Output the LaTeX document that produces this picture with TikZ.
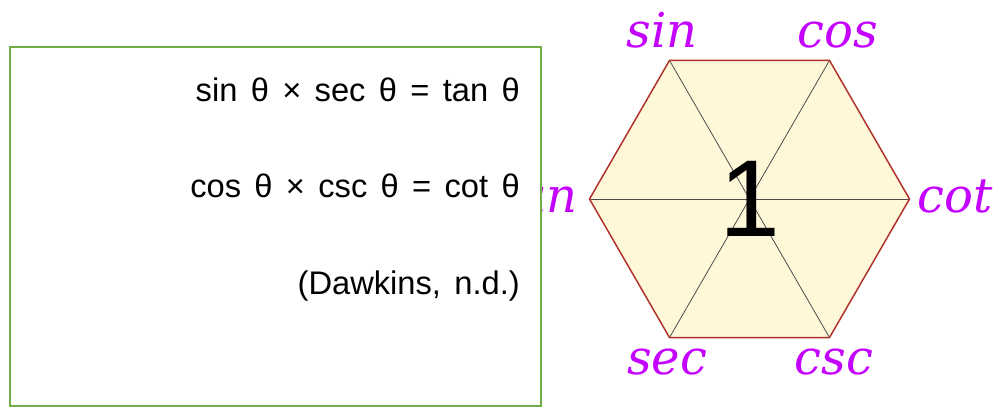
\documentclass[tikz,border=0pt]{standalone}
\usepackage{fontspec}
\setmainfont{Liberation Sans}
\newfontfamily\labelfont{DejaVu Serif}
\usepackage{xcolor}
\usepackage{tikz}
\definecolor{hexfill}{RGB}{255,248,216}
\definecolor{hexedge}{RGB}{176,48,40}
\definecolor{fnviolet}{RGB}{196,0,255}
\definecolor{boxgreen}{RGB}{112,173,71}
\newcommand\eqfont{\fontsize{24.5}{24.5}\selectfont\spaceskip=10pt plus 0pt\relax}

\begin{document}
\begin{tikzpicture}[x=0.75pt,y=0.75pt,
    fn/.style={font=\labelfont\itshape\fontsize{36}{36}\selectfont,text=fnviolet,inner sep=0pt,anchor=base},
    eq/.style={font=\eqfont,inner sep=0pt,anchor=base east}]
  \useasboundingbox (0,0) rectangle (997,409);
  \coordinate (c) at (749.5,210);
  \foreach \k in {0,...,5} \coordinate (v\k) at ([shift={(60*\k:160)}]c);
  \fill[hexfill] (v0) -- (v1) -- (v2) -- (v3) -- (v4) -- (v5) -- cycle;
  \foreach \k/\m in {0/3,1/4,2/5} \draw[line width=0.6pt,black!70] (v\k) -- (v\m);
  \draw[hexedge,line width=1.1pt] (v0) -- (v1) -- (v2) -- (v3) -- (v4) -- (v5) -- cycle;
  \node[font=\fontsize{82}{82}\selectfont,inner sep=0pt] (one) at (c) {1};
  % function names at the corners
  \node[fn] (sin) at (662,361) {sin};
  \node[fn] (cos) at (838,361) {cos};
  \node[fn,anchor=base west] (cot) at (917,196) {cot};
  \node[fn,anchor=base east] (tan) at (578,196) {tan};
  \node[fn] (sec) at (667,34) {sec};
  \node[fn] (csc) at (834,34) {csc};
  % text box
  \draw[boxgreen,line width=1.5pt,fill=white] (10,3) rectangle (541,362);
  \node[eq] (eq1) at (520,307) {sin θ × sec θ = tan θ};
  \node[eq] (eq2) at (520,211) {cos θ × csc θ = cot θ};
  \node[eq] (ref) at (520,114) {(Dawkins, n.d.)};
\end{tikzpicture}
\end{document}
